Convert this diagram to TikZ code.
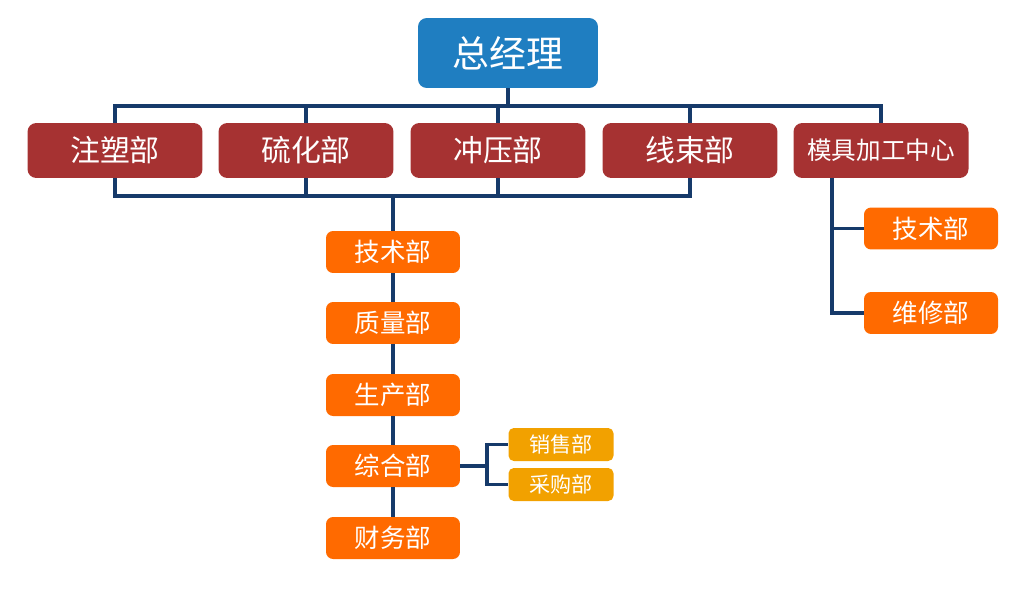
\documentclass[tikz,border=0pt]{standalone}
\usepackage{fontspec}
\newfontfamily\cjk{Noto Sans CJK SC}
\definecolor{gmblue}{HTML}{1F7EC1}
\definecolor{deptred}{HTML}{A63232}
\definecolor{suborange}{HTML}{FF6A00}
\definecolor{smallyellow}{HTML}{F2A100}
\definecolor{linenavy}{HTML}{163A6A}
\begin{document}
\begin{tikzpicture}
[x=0.02cm, y=-0.02cm,
box/.style ={shape=rectangle, rounded corners=5pt, text=white, inner sep=0pt, font=\cjk},
gmbox/.style ={box, fill=gmblue, minimum width=3.6cm, minimum height=1.4cm, font=\cjk\fontsize{21}{24}\selectfont},
deptbox/.style ={box, fill=deptred, minimum width=3.5cm, minimum height=1.1cm, font=\cjk\fontsize{17}{20}\selectfont},
subbox/.style ={box, fill=suborange, minimum width=2.68cm, minimum height=0.84cm, rounded corners=4pt, font=\cjk\fontsize{14.5}{16}\selectfont},
smallbox/.style ={box, fill=smallyellow, minimum width=2.1cm, minimum height=0.66cm, rounded corners=3pt, font=\cjk\fontsize{12}{14}\selectfont},
link/.style ={draw=linenavy, line width=2.1pt}]
\useasboundingbox (0,0) rectangle (1023,591);
% boxes
\node[gmbox] (gm) at (508,53) {总经理};
\node[deptbox] (zs) at (115,150.5) {注塑部};
\node[deptbox] (lh) at (306,150.5) {硫化部};
\node[deptbox] (cy) at (498,150.5) {冲压部};
\node[deptbox] (xs) at (690,150.5) {线束部};
\node[deptbox, font=\cjk\fontsize{14}{16}\selectfont] (mj) at (881,150.5) {模具加工中心};
\node[subbox] (js) at (393,252) {技术部};
\node[subbox] (zl) at (393,323) {质量部};
\node[subbox] (sc) at (393,395) {生产部};
\node[subbox] (zh) at (393,466) {综合部};
\node[subbox] (cw) at (393,538) {财务部};
\node[smallbox] (xsb) at (561,444.5) {销售部};
\node[smallbox] (cg) at (561,484.5) {采购部};
\node[subbox] (mjjs) at (931,228.5) {技术部};
\node[subbox] (mjwx) at (931,313) {维修部};
% connectors
\coordinate (bustop) at (500,106);
\coordinate (busbot) at (393,196);
\coordinate (br) at (487,466);
\coordinate (mjt) at (832,178);
\draw[link] (gm.south) -- (gm.south |- bustop);
\draw[link] (zs.north) |- (bustop) -| (mj.north);
\draw[link] (lh.north) -- (lh.north |- bustop);
\draw[link] (cy.north) -- (cy.north |- bustop);
\draw[link] (xs.north) -- (xs.north |- bustop);
\draw[link] (zs.south) |- (busbot) -| (xs.south);
\draw[link] (lh.south) -- (lh.south |- busbot);
\draw[link] (cy.south) -- (cy.south |- busbot);
\draw[link] (busbot) -- (js.north);
\draw[link] (js.south) -- (zl.north);
\draw[link] (zl.south) -- (sc.north);
\draw[link] (sc.south) -- (zh.north);
\draw[link] (zh.south) -- (cw.north);
\draw[link] (zh.east) -- (br) |- (xsb.west);
\draw[link] (br) |- (cg.west);
\draw[link] (mjt) |- (mjjs.west);
\draw[link] (mjt) |- (mjwx.west);
\end{tikzpicture}
\end{document}
